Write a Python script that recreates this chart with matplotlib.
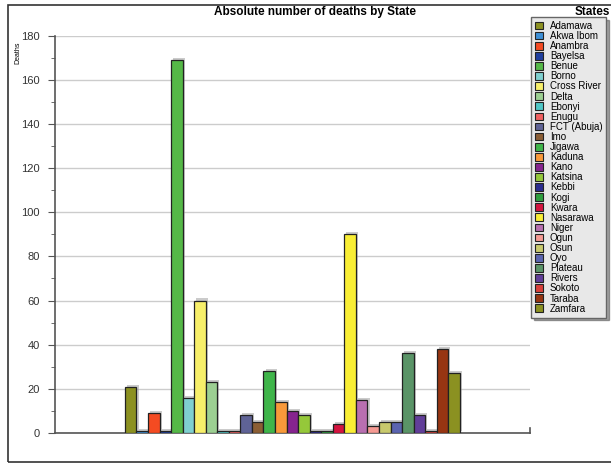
import matplotlib.pyplot as plt
import matplotlib.patheffects as pe
from matplotlib.patches import Patch, Rectangle

plt.rcParams['font.family'] = ['Liberation Sans', 'DejaVu Sans']

states = ['Adamawa', 'Akwa Ibom', 'Anambra', 'Bayelsa', 'Benue', 'Borno',
          'Cross River', 'Delta', 'Ebonyi', 'Enugu', 'FCT (Abuja)', 'Imo',
          'Jigawa', 'Kaduna', 'Kano', 'Katsina', 'Kebbi', 'Kogi', 'Kwara',
          'Nasarawa', 'Niger', 'Ogun', 'Osun', 'Oyo', 'Plateau', 'Rivers',
          'Sokoto', 'Taraba', 'Zamfara']
deaths = [21, 1, 9, 1, 169, 16, 60, 23, 1, 1, 8, 5, 28, 14, 10, 8, 1, 1, 4,
          90, 15, 3, 5, 5, 36, 8, 1, 38, 27]
colors = ['#8c9121', '#3d8fd6', '#f44b22', '#1f3f9f', '#55b847', '#7fd0d0',
          '#f7ef6a', '#9ccf92', '#4fc6c6', '#f06060', '#5f6396', '#8b5e34',
          '#3fb54a', '#f8993a', '#86248f', '#95c83a', '#2b2b8f', '#2e9e3e',
          '#d4143f', '#f9ee35', '#b86fb0', '#f59a93', '#c8c96d', '#5b64b0',
          '#5a9467', '#613e99', '#d9403a', '#973512', '#8b9121']

fig = plt.figure(figsize=(6.11, 4.65), dpi=100)
ax = fig.add_axes([0.090, 0.069, 0.777, 0.854])

x = list(range(len(states)))
bars = ax.bar(x, deaths, width=1.0, color=colors, edgecolor='#222222',
              linewidth=0.9, zorder=3)
for b in bars:
    b.set_path_effects([pe.SimplePatchShadow(offset=(1.5, 1.5),
                                             shadow_rgbFace='#999999', alpha=0.5),
                        pe.Normal()])

ax.set_xlim(-6.55, 34.55)
ax.set_ylim(0, 180)
ax.set_yticks(range(0, 181, 20))
ax.set_yticks(range(10, 180, 20), minor=True)
ax.set_xticks([])
ax.grid(axis='y', color='#cccccc', linewidth=1.0, zorder=0)
for s in ['top', 'right']:
    ax.spines[s].set_visible(False)
for s in ['left', 'bottom']:
    ax.spines[s].set_color('#555555')
    ax.spines[s].set_linewidth(1.2)
ax.tick_params(axis='y', which='major', length=5, color='#555555',
               labelsize=8, labelcolor='#333333', pad=6)
ax.tick_params(axis='y', which='minor', length=3, color='#555555')
ax.axvline(34.55, ymin=0, ymax=0.012, color='#555555', lw=1.2, clip_on=False)

fig.text(18 / 611, 1 - 42 / 465, 'Deaths', rotation=90, fontsize=5,
         ha='center', va='top')
fig.text(315 / 611, 1 - 15 / 465, 'Absolute number of deaths by State',
         fontsize=8.5, fontweight='bold', ha='center', va='baseline')
fig.text(575 / 611, 1 - 15 / 465, 'States', fontsize=8.5,
         fontweight='bold', ha='left', va='baseline')

# screenshot frame
fig.add_artist(Rectangle((8 / 611, 3 / 465), 2, 1 - 8 / 465,
                         transform=fig.transFigure, fill=False,
                         edgecolor='#333333', linewidth=1.2))

handles = [Patch(facecolor=c, edgecolor='#222222', linewidth=0.8) for c in colors]
leg = fig.legend(handles, states, loc='upper left',
                 bbox_to_anchor=(531 / 611, 1 - 17 / 465),
                 fontsize=7, labelspacing=0.01, handlelength=0.85,
                 handleheight=0.85, handletextpad=0.7, borderpad=0.4,
                 borderaxespad=0, fancybox=False, shadow=True,
                 frameon=True)
leg.get_frame().set_facecolor('#e8e8e8')
leg.get_frame().set_edgecolor('#666666')

fig.savefig('out.png', dpi=100)
